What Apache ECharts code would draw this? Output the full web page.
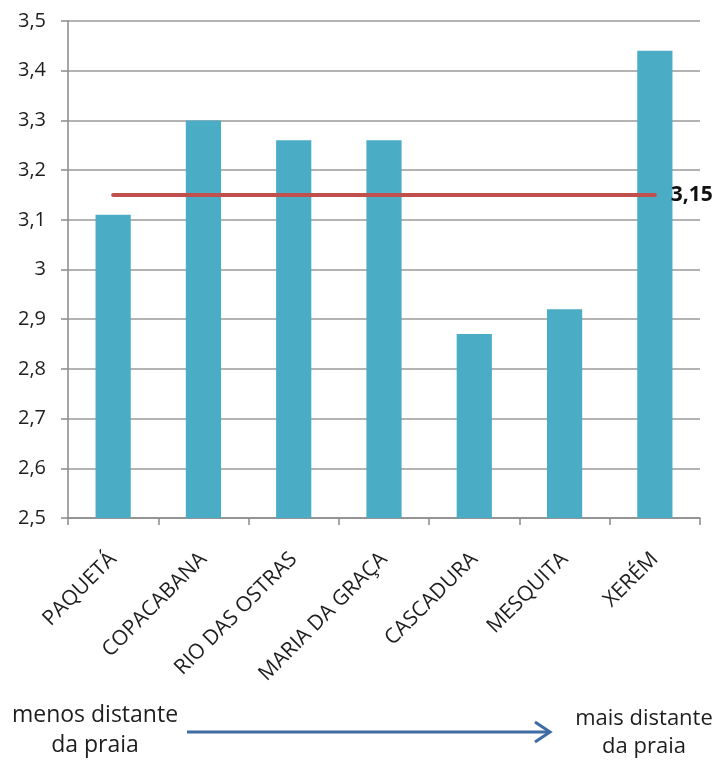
<!DOCTYPE html>
<html>
<head>
<meta charset="utf-8">
<title>Média por localidade</title>
<script src="https://cdn.jsdelivr.net/npm/echarts@6/dist/echarts.min.js"></script>
<style>
  html, body { margin: 0; padding: 0; background: #fff; }
  #chart { width: 721px; height: 760px; }
</style>
</head>
<body>
<div id="chart"></div>
<script>
// Localidades, ordenadas da menos para a mais distante da praia
const categories = ['PAQUETÁ', 'COPACABANA', 'RIO DAS OSTRAS', 'MARIA DA GRAÇA', 'CASCADURA', 'MESQUITA', 'XERÉM'];
// Média de cada localidade
const values = [3.11, 3.30, 3.26, 3.26, 2.87, 2.92, 3.44];
// Média geral, desenhada como linha horizontal
const averageLine = [3.15, 3.15, 3.15, 3.15, 3.15, 3.15, 3.15];
const averageLabel = '3,15';
// Eixo vertical
const yMin = 2.5;
const yMax = 3.5;
const yStep = 0.1;
// Legenda inferior
const leftNote = ['menos distante', 'da praia'];
const rightNote = ['mais distante', 'da praia'];

const FONT = '"Open Sans", "Noto Sans", sans-serif';
const chart = echarts.init(document.getElementById('chart'), null, { renderer: 'canvas' });

const option = {
  animation: false,
  backgroundColor: '#ffffff',
  grid: { left: 68, right: 21, top: 21, bottom: 242, containLabel: false },
  xAxis: {
    type: 'category',
    data: categories,
    boundaryGap: true,
    axisLine: { show: true, lineStyle: { color: '#8a8a8a', width: 1.5 } },
    axisTick: { show: true, alignWithLabel: false, length: 7, lineStyle: { color: '#8a8a8a', width: 1.5 } },
    axisLabel: {
      rotate: 45,
      interval: 0,
      margin: 38,
      color: '#1e1e1e',
      fontFamily: FONT,
      fontSize: 21
    },
    splitLine: { show: false }
  },
  yAxis: {
    type: 'value',
    min: yMin,
    max: yMax,
    interval: yStep,
    axisLine: { show: true, lineStyle: { color: '#8a8a8a', width: 1.5 } },
    axisTick: { show: true, length: 7, lineStyle: { color: '#8a8a8a', width: 1.5 } },
    axisLabel: {
      margin: 22,
      color: '#1e1e1e',
      fontFamily: FONT,
      fontSize: 20,
      formatter: v => String(Math.round(v * 10) / 10).replace('.', ',')
    },
    splitLine: { show: true, lineStyle: { color: '#9a9a9a', width: 1.5 } }
  },
  series: [
    {
      type: 'bar',
      data: values,
      barWidth: '39%',
      itemStyle: { color: '#4BACC6' },
      z: 2
    },
    {
      type: 'line',
      data: averageLine,
      symbol: 'none',
      lineStyle: { color: '#C0504D', width: 4, cap: 'round' },
      endLabel: {
        show: true,
        formatter: () => averageLabel,
        color: '#111',
        fontFamily: FONT,
        fontWeight: 'bold',
        fontSize: 21,
        distance: 16
      },
      z: 3
    }
  ],
  graphic: [
    {
      type: 'text',
      x: 95, y: 700,
      style: {
        text: leftNote.join('\n'),
        font: '23px ' + FONT,
        fill: '#1e1e1e',
        align: 'center',
        verticalAlign: 'top',
        lineHeight: 30
      }
    },
    {
      type: 'text',
      x: 644, y: 705,
      style: {
        text: rightNote.join('\n'),
        font: '22px ' + FONT,
        fill: '#1e1e1e',
        align: 'center',
        verticalAlign: 'top',
        lineHeight: 28
      }
    },
    {
      type: 'line',
      shape: { x1: 187, y1: 732, x2: 549, y2: 732 },
      style: { stroke: '#3F6BA3', lineWidth: 3 }
    },
    {
      type: 'polyline',
      shape: { points: [[535, 722], [550, 732], [535, 742]] },
      style: { stroke: '#3F6BA3', lineWidth: 3, fill: null }
    }
  ]
};

chart.setOption(option);
</script>
</body>
</html>
